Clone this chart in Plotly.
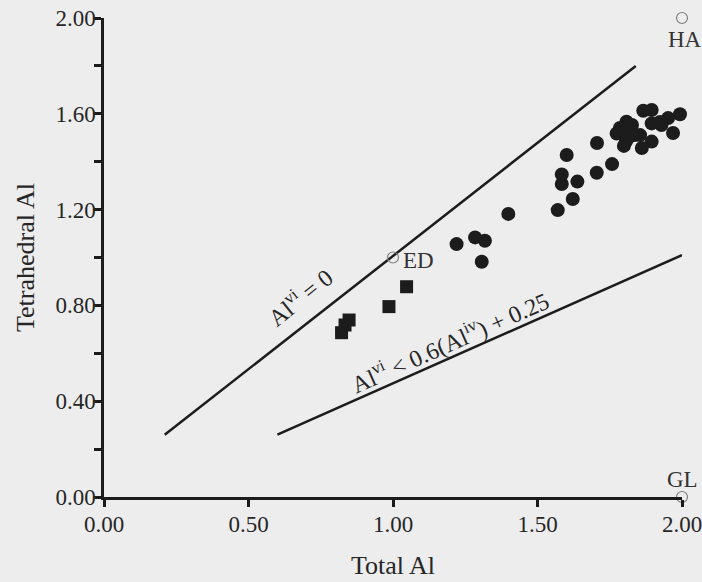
import plotly.graph_objects as go

# Data
circ_x = [1.220, 1.284, 1.318, 1.307, 1.399, 1.570, 1.622, 1.584, 1.584, 1.638,
          1.601, 1.705, 1.758, 1.706, 1.861, 1.895, 1.969, 1.866, 1.895, 1.993,
          1.952, 1.924, 1.808, 1.774, 1.820, 1.837, 1.806, 1.785, 1.827, 1.813,
          1.855, 1.799, 1.929, 1.895]
circ_y = [1.056, 1.084, 1.070, 0.982, 1.182, 1.198, 1.244, 1.307, 1.347, 1.317,
          1.428, 1.354, 1.390, 1.478, 1.457, 1.484, 1.520, 1.613, 1.616, 1.598,
          1.582, 1.566, 1.567, 1.518, 1.525, 1.511, 1.484, 1.541, 1.553, 1.499,
          1.511, 1.466, 1.553, 1.560]

sq_x = [1.047, 0.986, 0.848, 0.834, 0.822]
sq_y = [0.878, 0.795, 0.739, 0.718, 0.686]

ref_names = ["ED", "HA", "GL"]
ref_x = [1.0, 2.0, 2.0]
ref_y = [1.0, 2.0, 0.0]

line1_x = [0.21, 1.84]
line1_y = [0.26, 1.80]
line2_x = [0.60, 2.00]
line2_y = [0.26, 1.01]

x_ticks = [0, 0.5, 1.0, 1.5, 2.0]
x_labels = ["0.00", "0.50", "1.00", "1.50", "2.00"]
y_ticks = [0, 0.4, 0.8, 1.2, 1.6, 2.0]
y_labels = ["0.00", "0.40", "0.80", "1.20", "1.60", "2.00"]
y_minor = [0.2, 0.6, 1.0, 1.4, 1.8]

FONT = "Liberation Serif"
INK = "#1c1c1c"
TXT = "#262626"

fig = go.Figure()
fig.add_trace(go.Scatter(x=line1_x, y=line1_y, mode="lines",
                         line=dict(color=INK, width=2.5), cliponaxis=False))
fig.add_trace(go.Scatter(x=line2_x, y=line2_y, mode="lines",
                         line=dict(color=INK, width=2.5), cliponaxis=False))
fig.add_trace(go.Scatter(x=circ_x, y=circ_y, mode="markers",
                         marker=dict(symbol="circle", size=14, color=INK, line=dict(width=0)),
                         cliponaxis=False))
fig.add_trace(go.Scatter(x=sq_x, y=sq_y, mode="markers",
                         marker=dict(symbol="square", size=13, color=INK, line=dict(width=0)),
                         cliponaxis=False))
fig.add_trace(go.Scatter(x=ref_x, y=ref_y, mode="markers",
                         marker=dict(symbol="circle-open", size=11, color="#808080",
                                     line=dict(width=1.2, color="#808080")),
                         cliponaxis=False))

ann = []
ann.append(dict(x=ref_x[0], y=ref_y[0], text=ref_names[0], xanchor="left", yanchor="middle",
                xshift=8, yshift=-3, showarrow=False, font=dict(family=FONT, size=23, color="#333")))
ann.append(dict(x=ref_x[1], y=ref_y[1], text=ref_names[1], xanchor="center", yanchor="middle",
                xshift=3, yshift=-21, showarrow=False, font=dict(family=FONT, size=23, color="#333")))
ann.append(dict(x=ref_x[2], y=ref_y[2], text=ref_names[2], xanchor="center", yanchor="middle",
                yshift=18, showarrow=False, font=dict(family=FONT, size=23, color="#333")))
ann.append(dict(x=0.678, y=0.839, text="Al<sup>vi</sup> = 0", textangle=-39,
                showarrow=False, font=dict(family=FONT, size=24, color=TXT)))
ann.append(dict(x=1.197, y=0.651, text="Al<sup>vi</sup> &lt; 0.6(Al<sup>iv</sup>) + 0.25",
                textangle=-24, showarrow=False, font=dict(family=FONT, size=24, color=TXT)))

fig.update_layout(
    width=702, height=582,
    margin=dict(l=104, r=20, t=18, b=85, autoexpand=False),
    paper_bgcolor="#ededed", plot_bgcolor="#ededed",
    showlegend=False,
    font=dict(family=FONT, size=22, color=TXT),
    annotations=ann,
    xaxis=dict(range=[0, 2.0], showgrid=False, zeroline=False, automargin=False,
               showline=True, linecolor=INK, linewidth=2.5,
               tickmode="array", tickvals=x_ticks, ticktext=x_labels,
               ticks="outside", ticklen=7, tickwidth=2.5, tickcolor=INK,
               ticklabeloverflow="allow", ticklabelstandoff=-2,
               tickfont=dict(family=FONT, size=23, color=TXT),
               title=dict(text="Total Al", font=dict(family=FONT, size=26, color=TXT), standoff=20)),
    yaxis=dict(range=[0, 2.0], showgrid=False, zeroline=False, automargin=False,
               showline=True, linecolor=INK, linewidth=2.5,
               tickmode="array", tickvals=y_ticks, ticktext=y_labels,
               ticks="outside", ticklen=7, tickwidth=2.5, tickcolor=INK,
               ticklabeloverflow="allow", ticklabelstandoff=-6,
               minor=dict(tickvals=y_minor, ticks="outside", ticklen=7,
                          tickwidth=2.5, tickcolor=INK, showgrid=False),
               tickfont=dict(family=FONT, size=23, color=TXT),
               title=dict(text="Tetrahedral Al", font=dict(family=FONT, size=26, color=TXT), standoff=14)),
)

fig.write_html("out.html", config={"displayModeBar": False},
               post_script="document.body.style.margin='0';document.body.style.overflow='hidden';")
